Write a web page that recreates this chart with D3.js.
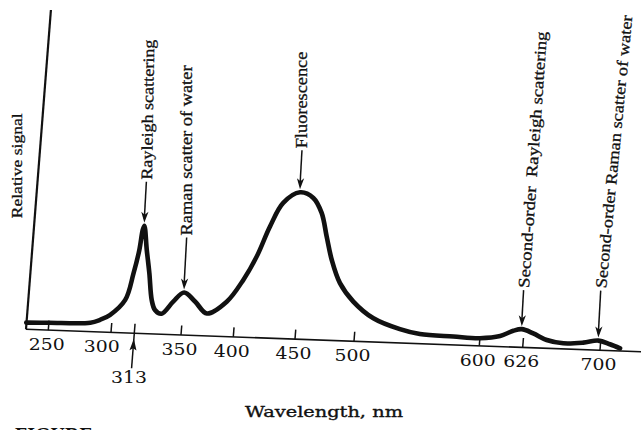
<!DOCTYPE html>
<html>
<head>
<meta charset="utf-8">
<script src="https://cdn.jsdelivr.net/npm/d3@7"></script>
<style>
  html, body { margin: 0; padding: 0; background: #fff; }
  svg { display: block; }
</style>
</head>
<body>
<svg id="chart" width="641" height="430"></svg>
<script>
// Emission spectrum of a dilute solution excited at 313 nm, with the
// scatter peaks of the solvent marked.
const wavelengths = [232, 250, 283, 290.5, 298, 306.5, 310, 312.2, 313.3, 314.3,
  317.7, 321.2, 324.7, 327.9, 333.4, 341.8, 349.8, 360.9, 373.2, 391.1,
  404.5, 413.9, 422.7, 431.9, 444.8, 456.2, 464.2, 470, 475.8, 484.3,
  496.8, 514, 535.8, 552, 578.8, 600, 612, 619.6, 624.6, 635,
  648.4, 664.5, 683.5, 697.7, 709, 719];
const signal = [2.1, 2.3, 2.8, 3.8, 5.4, 10.3, 18.8, 26.1, 32.4, 33.7,
  26.2, 18.9, 10.6, 7.5, 6.4, 10.3, 13.3, 10.6, 7.0, 10.9,
  17.9, 25.4, 34.9, 42.4, 45.9, 44.3, 39.7, 32.4, 25.2, 18.0,
  12.4, 7.4, 4.3, 3.0, 2.6, 2.4, 3.3, 5.1, 5.7, 4.5,
  2.6, 1.75, 2.2, 3.0, 2.0, 0.85];

const tickValues = [250, 300, 313, 350, 400, 450, 500, 600, 626, 700];
const tickLabels = ["250", "300", "313", "350", "400", "450", "500", "600", "626", "700"];
const excitation = 313;

const peakWavelengths = [314.3, 349.8, 444.8, 624.6, 697.7];
const peakLabels = [
  "Rayleigh scattering",
  "Raman scatter of water",
  "Fluorescence",
  "Second-order\u2002Rayleigh scattering",
  "Second-order Raman scatter of water"
];
const yAxisLabel = "Relative signal";
const xAxisLabel = "Wavelength, nm";
const captionLabel = "FIGURE";

// ---- frame geometry (the printed axes are slightly sheared) ----
const origin = [26, 329.3];
const axisSlope = 0.0365;   // x axis drops to the right
const axisLean = 0.078;     // y axis leans to the right
const frameHeight = 319.3;

// hand-ruled wavelength axis: tick spacing is not perfectly uniform
const x = d3.scaleLinear()
  .domain(tickValues)
  .range([22.3, 85, 108.3, 155, 207.3, 269, 328, 453.3, 496.7, 574]);
const y = d3.scaleLinear().domain([0, 100]).range([0, -frameHeight]);

const toScreen = (u, v) => [origin[0] + u - axisLean * v, origin[1] + axisSlope * u + v];
const project = (nm, s) => toScreen(x(nm), y(s));

const svg = d3.select("#chart");
const ink = "#111";

const frame = svg.append("g")
  .attr("transform", `translate(${origin[0]},${origin[1]}) matrix(1,${axisSlope},${-axisLean},1,0,0)`);

// axes
frame.append("line")
  .attr("x1", 0).attr("y1", 0).attr("x2", x(740)).attr("y2", 0)
  .attr("stroke", ink).attr("stroke-width", 1.6);
frame.append("line")
  .attr("x1", 0).attr("y1", 0).attr("x2", 0).attr("y2", y(100))
  .attr("stroke", ink).attr("stroke-width", 2.2);

const axis = d3.axisBottom(x)
  .tickValues(tickValues)
  .tickSize(-9.5)
  .tickFormat("")
  .offset(0);
const axisG = frame.append("g").call(axis);
axisG.select(".domain").remove();
axisG.selectAll(".tick line").attr("stroke", ink).attr("stroke-width", 1.5);

// excitation marker below the axis
const ex = x(excitation);
frame.append("line")
  .attr("x1", ex).attr("y1", 0).attr("x2", ex).attr("y2", 35)
  .attr("stroke", ink).attr("stroke-width", 1.5);
frame.append("path")
  .attr("d", `M${ex},5.5 L${ex - 3.5},17 L${ex},15 L${ex + 3.5},17 Z`)
  .attr("fill", ink);

// spectrum
const spectrum = wavelengths.map((w, i) => [w, signal[i]]);
const line = d3.line()
  .x(d => x(d[0]))
  .y(d => y(d[1]))
  .curve(d3.curveCatmullRom.alpha(0.5));
frame.append("path")
  .datum(spectrum)
  .attr("d", line)
  .attr("fill", "none")
  .attr("stroke", ink)
  .attr("stroke-width", 4.6)
  .attr("stroke-linejoin", "round")
  .attr("stroke-linecap", "round");

// tick labels (upright text)
const labelFont = "'DejaVu Serif', serif";
tickValues.forEach((t, i) => {
  const [px, py] = project(t, 0);
  let dx = -1.5, dy = 20;
  if (t === 300) dx = -9.3;
  if (t === excitation) { dx = -5.3; dy = 50; }
  svg.append("text")
    .attr("x", px + dx).attr("y", py + dy)
    .attr("text-anchor", "middle")
    .attr("font-family", labelFont)
    .attr("font-size", 16.5)
    .attr("textLength", 36)
    .attr("lengthAdjust", "spacingAndGlyphs")
    .attr("fill", ink)
    .text(tickLabels[i]);
});

// peak annotations: arrow from the label down to the peak
const leaderLength = [41, 52, 39, 36, 47];
const labelLength = [140, 170, 96.7, 257, 274];
const labelAngle = [-89, -90, -90, -86, -84.5];
const leaderLean = 0.05;
const annoFont = "'Liberation Serif', 'Times New Roman', serif";

peakWavelengths.forEach((nm, i) => {
  const s = signal[wavelengths.indexOf(nm)];
  const [px, py] = project(nm, s);
  const tip = [px, py - 3];
  const L = leaderLength[i];
  const top = [tip[0] + leaderLean * L, tip[1] - L];
  svg.append("line")
    .attr("x1", top[0]).attr("y1", top[1])
    .attr("x2", tip[0]).attr("y2", tip[1] - 4)
    .attr("stroke", ink).attr("stroke-width", 1.5);
  const bx = tip[0] + leaderLean * 11, by = tip[1] - 11;
  svg.append("path")
    .attr("d", `M${tip[0]},${tip[1]} L${bx - 3.6},${by} L${tip[0] + leaderLean * 8},${tip[1] - 8} L${bx + 3.6},${by} Z`)
    .attr("fill", ink);
  svg.append("text")
    .attr("transform", `translate(${top[0] + 5.5},${top[1] - 2}) rotate(${labelAngle[i]})`)
    .attr("font-family", annoFont)
    .attr("font-size", 16)
    .attr("textLength", labelLength[i])
    .attr("lengthAdjust", "spacingAndGlyphs")
    .attr("fill", ink)
    .attr("stroke", ink)
    .attr("stroke-width", 0.3)
    .text(peakLabels[i]);
});

// axis titles
svg.append("text")
  .attr("transform", "translate(21.7,218.3) rotate(-90)")
  .attr("font-family", annoFont)
  .attr("font-size", 15.5)
  .attr("textLength", 105)
  .attr("lengthAdjust", "spacingAndGlyphs")
  .attr("fill", ink)
  .attr("stroke", ink)
  .attr("stroke-width", 0.3)
  .text(yAxisLabel);

svg.append("text")
  .attr("x", 324).attr("y", 417)
  .attr("text-anchor", "middle")
  .attr("font-family", labelFont)
  .attr("font-size", 15)
  .attr("textLength", 158)
  .attr("lengthAdjust", "spacingAndGlyphs")
  .attr("fill", ink)
  .attr("stroke", ink)
  .attr("stroke-width", 0.35)
  .text(xAxisLabel);

// start of the caption, running off the bottom edge
svg.append("text")
  .attr("x", 15).attr("y", 442)
  .attr("font-family", annoFont)
  .attr("font-weight", "bold")
  .attr("font-size", 20)
  .attr("fill", ink)
  .text(captionLabel);
</script>
</body>
</html>
